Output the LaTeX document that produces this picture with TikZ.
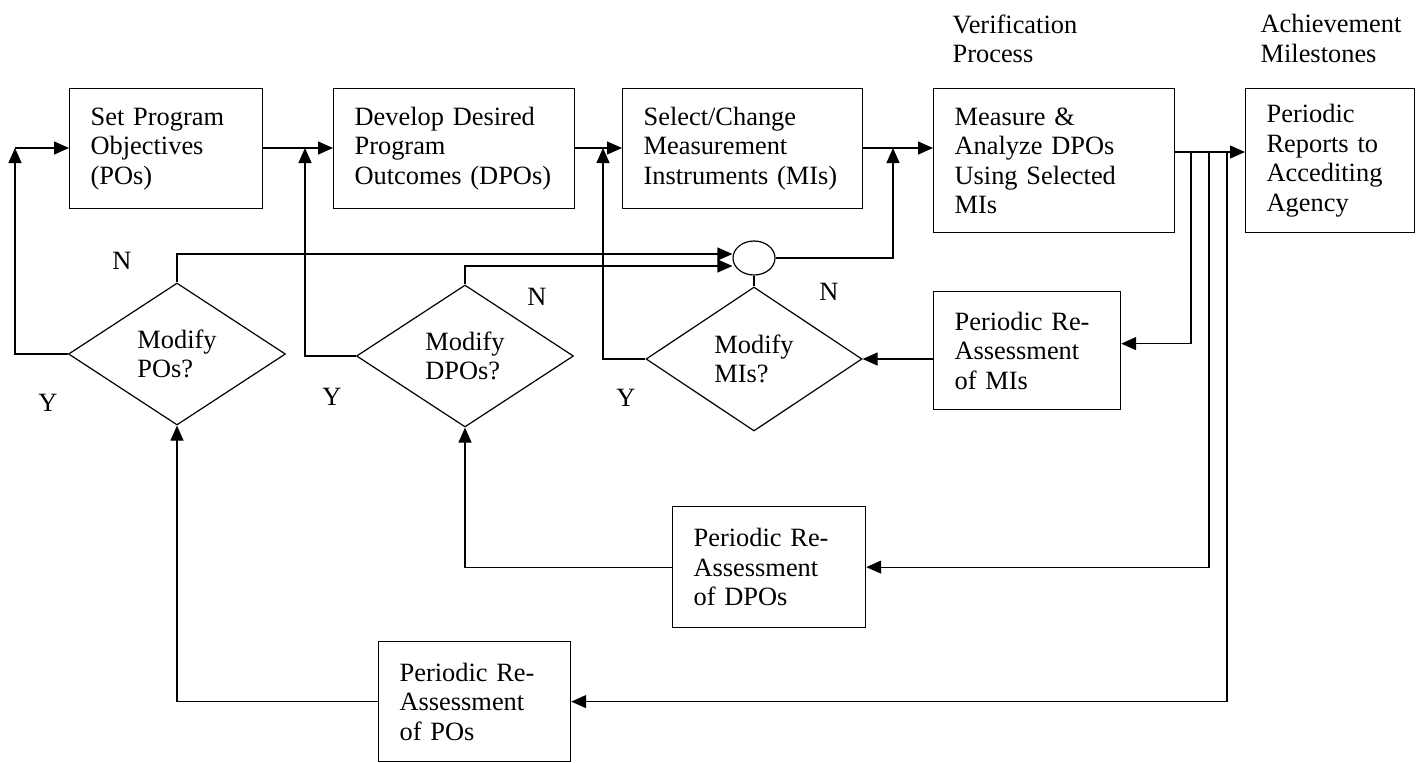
\documentclass[tikz,border=0pt]{standalone}
\usepackage{fontspec}
\setmainfont{Liberation Serif}
\usepackage{tikz}
\usetikzlibrary{shapes.geometric, arrows.meta}
\tikzset{every node/.style={font=\fontsize{13.2pt}{14.75pt}\selectfont},
	stage/.style={draw, rectangle, anchor=north west, align=left,
		inner xsep=10.5pt, inner ysep=0pt},
	decide/.style={draw, diamond, aspect=1.5, inner sep=0pt, align=left,
		minimum width=108.5pt, minimum height=71pt},
	mergecirc/.style={draw, ellipse, inner sep=0pt, minimum width=21pt, minimum height=17pt},
	yn/.style={inner sep=0pt},
	head/.style={anchor=north west, align=left, inner sep=0pt},
	flow/.style={-{Triangle[length=7.5pt,width=6.5pt]}}}

\begin{document}
\begin{tikzpicture}
    [x=0.5pt, y=-0.5pt, line width=0.6pt]
    \useasboundingbox (0,0) rectangle (1422,762);
    % column headings
    \node[head] (hver) at (952,14){Verification\\Process};
    \node[head] (hach) at (1260,14){Achievement\\Milestones};
    % top row
    \node[stage, text width=75.5pt, minimum height=60pt] (set) at (69,88){Set Program\\Objectives\\(POs)};
    \node[stage, text width=99.5pt, minimum height=60pt] (dpo) at (333,88){Develop Desired\\Program\\Outcomes (DPOs)};
    \node[stage, text width=99pt, minimum height=60pt] (mi) at (622,88){Select/Change\\Measurement\\Instruments (MIs)};
    \node[stage, text width=99.5pt, minimum height=72pt] (meas) at (933,88){Measure \&\\Analyze DPOs\\Using Selected\\MIs};
    \node[stage, text width=63.5pt, minimum height=72pt] (rep) at (1245,88){Periodic\\Reports to\\Accediting\\Agency};
    % decisions
    \node[decide] (modpo) at (177,354){Modify\\POs?};
    \node[decide] (moddpo) at (465,356){Modify\\DPOs?};
    \node[decide, minimum width=108pt, minimum height=72pt] (modmi) at (754,359){Modify\\MIs?};
    \node[mergecirc] (circ) at (754,258){};
    % re-assessment boxes
    \node[stage, text width=72.5pt, minimum height=59pt] (remi) at (933,291){Periodic Re-\\Assessment\\of MIs};
    \node[stage, text width=75.5pt, minimum height=60.5pt] (redpo) at (672,506){Periodic Re-\\Assessment\\of DPOs};
    \node[stage, text width=75pt, minimum height=60pt] (repo) at (378,641){Periodic Re-\\Assessment\\of POs};
    % Y / N labels
    \node[yn] (n1) at (122,261){N};
    \node[yn] (n2) at (537,297){N};
    \node[yn] (n3) at (829,292){N};
    \node[yn] (y1) at (48,403){Y};
    \node[yn] (y2) at (332,397){Y};
    \node[yn] (y3) at (626,398){Y};
    % junctions
    \coordinate (jpo) at (15,148);
    \coordinate (jdpo) at (305,148);
    \coordinate (jmi) at (603,148);
    \coordinate (jmeas) at (893,148);
    \coordinate (b1) at (1191,152);
    \coordinate (b2) at (1209,152);
    \coordinate (b3) at (1227,152);
    \draw[flow] (jpo) -- (set.west |- jpo);
    \draw[flow] (set.east |- jdpo) -- (dpo.west |- jdpo);
    \draw[flow] (dpo.east |- jmi) -- (mi.west |- jmi);
    \draw[flow] (mi.east |- jmeas) -- (meas.west |- jmeas);
    \draw[flow] (meas.east |- b1) -- (rep.west |- b1);
    \draw[flow] (modpo.west) -| (jpo);
    \draw[flow] (moddpo.west) -| (jdpo);
    \draw[flow] (modmi.west) -| (jmi);
    \draw[flow] (modpo.north) |- ([yshift=2pt]circ.west);
    \draw[flow] (moddpo.north) |- ([yshift=-4pt]circ.west);
    \draw (modmi.north) -- (circ.south);
    \draw[flow] (circ.east) -| (jmeas);
    \draw[flow] (b1) |- ([yshift=3.5pt]remi.east);
    \draw[flow] (b2) |- (redpo.east);
    \draw[flow] (b3) |- (repo.east);
    \draw[flow] (remi.west |- modmi.east) -- (modmi.east);
    \draw[flow] (redpo.west) -| (moddpo.south);
    \draw[flow] (repo.west) -| (modpo.south);
\end{tikzpicture}
\end{document}
